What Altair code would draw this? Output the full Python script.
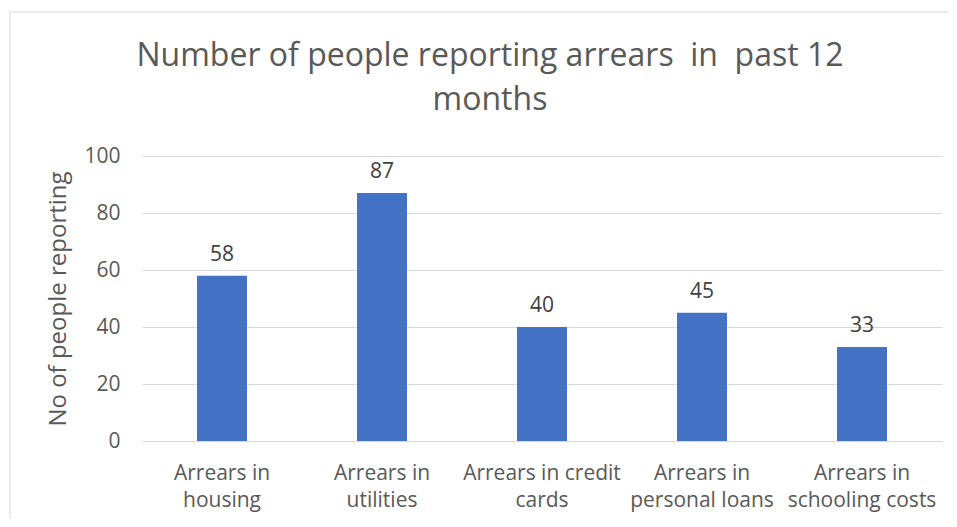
import altair as alt
import pandas as pd

categories = ["Arrears in|housing", "Arrears in|utilities", "Arrears in credit|cards",
              "Arrears in|personal loans", "Arrears in|schooling costs"]
values = [58, 87, 40, 45, 33]
y_ticks = [0, 20, 40, 60, 80, 100]
title_lines = ["Number of people reporting arrears\u00a0 in\u00a0 past 12", "months"]

df = pd.DataFrame({"cat": categories, "val": values})

FONT = "Open Sans"
GRAY = "#595959"

x_enc = alt.X("cat:N", sort=categories, title=None,
              scale=alt.Scale(paddingInner=0, paddingOuter=0),
              axis=alt.Axis(labelExpr="split(datum.label, '|')", labelAngle=0,
                            labelFont=FONT, labelFontSize=21, labelColor=GRAY,
                            labelLineHeight=27, labelPadding=21, ticks=False,
                            domainColor="#d9d9d9", domainWidth=1, grid=False))
y_enc = alt.Y("val:Q", title="No of people reporting",
              scale=alt.Scale(domain=[0, 100], nice=False),
              axis=alt.Axis(values=y_ticks, labelFont=FONT, labelFontSize=21,
                            labelColor=GRAY, titleFont=FONT, titleFontSize=24,
                            titleColor=GRAY, titleFontWeight="normal", titlePadding=13,
                            labelPadding=22, ticks=False, domain=False,
                            gridColor="#d9d9d9", gridWidth=1))

base = alt.Chart(df)

bars = base.mark_bar(color="#4472C4", width=alt.RelativeBandSize(0.3125)).encode(x=x_enc, y=y_enc)
labels = base.mark_text(font=FONT, fontSize=21, color="#404040", baseline="bottom", dy=-11).encode(
    x=alt.X("cat:N", sort=categories), y="val:Q", text="val:Q")

frame = alt.Chart(pd.DataFrame({"a": [0]})).mark_rect(
    fill=None, stroke="#d9d9d9", strokeWidth=1).encode(
    x=alt.value(-132), x2=alt.value(830), y=alt.value(-144), y2=alt.value(400))

chart = alt.layer(frame, bars, labels).properties(
    width=800, height=285,
    autosize=alt.AutoSizeParams(type="none"),
    padding={"left": 134, "top": 148, "right": 7, "bottom": 78},
    title=alt.TitleParams(title_lines,
                          font=FONT, fontSize=32, fontWeight="normal", color=GRAY,
                          anchor="middle", frame="group", baseline="alphabetic",
                          dx=-52, lineHeight=44, offset=-130),
).configure_view(stroke=None)

chart.save("out.html", embed_options={"renderer": "svg", "actions": False})
